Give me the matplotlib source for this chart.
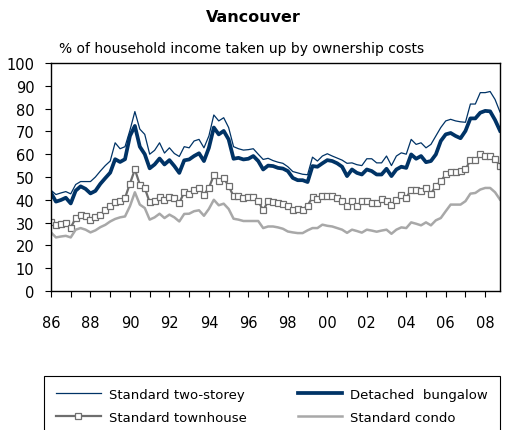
import numpy as np
import matplotlib
matplotlib.use("Agg")
import matplotlib.pyplot as plt
from matplotlib.ticker import FuncFormatter, MultipleLocator

# Quarterly data, 1986Q1 .. 2008Q4
start_year = 1986
two_storey = [
    44.2, 42.3, 43.0, 43.6, 42.6, 46.7, 48.0, 48.0, 48.0, 50.0, 52.6, 55.0,
    57.0, 65.0, 62.4, 63.3, 70.5, 78.7, 71.0, 68.7, 60.0, 61.7, 65.0, 60.5,
    62.8, 60.3, 59.0, 63.3, 62.8, 65.8, 66.5, 62.8, 68.0, 77.2, 74.6, 76.0,
    71.7, 63.3, 62.4, 61.8, 62.0, 62.4, 60.0, 57.7, 58.2, 57.2, 56.5, 56.0,
    54.5, 52.4, 51.8, 51.2, 51.0, 58.7, 57.0, 59.2, 60.2, 59.2, 58.3, 57.4,
    56.0, 56.2, 55.4, 55.0, 58.0, 58.0, 56.2, 56.2, 59.2, 55.0, 59.2, 60.6,
    60.0, 66.5, 64.3, 65.0, 62.8, 64.3, 68.0, 71.7, 74.6, 75.3, 74.6, 74.2,
    74.0, 82.0, 82.0, 87.0, 87.0, 87.5, 84.0, 78.5,
]
bungalow = [
    43.0, 39.2, 39.9, 40.9, 38.4, 44.0, 45.9, 44.8, 42.8, 43.9, 47.0, 49.5,
    51.9, 57.8, 56.6, 57.8, 68.0, 72.4, 63.3, 60.0, 53.8, 55.5, 58.1, 55.5,
    57.4, 54.8, 51.8, 57.3, 57.7, 59.2, 60.4, 57.0, 62.8, 71.7, 68.7, 70.2,
    66.5, 58.0, 58.4, 57.7, 58.0, 59.2, 57.0, 53.3, 55.0, 54.8, 54.0, 53.7,
    52.6, 49.6, 48.6, 48.6, 47.8, 54.8, 54.5, 56.0, 57.4, 57.0, 56.0, 54.5,
    50.4, 53.3, 51.8, 51.1, 53.3, 52.6, 51.1, 51.1, 53.6, 50.4, 53.3, 54.5,
    54.0, 59.9, 58.0, 59.2, 56.5, 57.0, 59.9, 65.8, 68.7, 69.3, 68.0, 67.0,
    70.2, 75.7, 75.7, 78.2, 79.0, 78.8, 75.0, 70.3,
]
townhouse = [
    30.1, 29.0, 29.5, 29.8, 27.8, 32.0, 33.5, 33.0, 31.3, 32.3, 33.5, 35.4,
    37.2, 38.9, 39.4, 40.8, 47.1, 53.3, 46.7, 45.2, 38.9, 39.4, 41.3, 40.0,
    41.3, 40.8, 38.6, 43.3, 42.7, 44.5, 45.2, 42.3, 45.2, 50.8, 48.2, 49.6,
    46.0, 41.6, 41.6, 40.8, 41.1, 41.1, 39.4, 35.4, 39.3, 38.9, 38.6, 38.2,
    37.2, 35.7, 36.0, 35.7, 37.5, 41.1, 40.4, 41.6, 41.6, 41.6, 40.8, 39.4,
    37.2, 39.4, 37.2, 39.4, 39.4, 38.6, 38.6, 40.2, 39.4, 37.6, 40.1, 41.9,
    40.8, 44.5, 44.5, 43.8, 45.2, 42.7, 46.0, 48.2, 51.1, 52.1, 52.1, 52.6,
    53.3, 57.4, 57.4, 59.9, 59.2, 59.2, 57.7, 55.0,
]
condo = [
    25.7, 23.5, 23.9, 24.2, 23.5, 26.9, 27.6, 26.9, 25.7, 26.6, 28.0, 29.0,
    30.5, 31.6, 32.3, 32.7, 37.2, 43.3, 37.9, 36.4, 31.3, 32.3, 33.9, 32.0,
    33.5, 32.3, 30.5, 33.8, 33.9, 35.0, 35.4, 33.0, 36.0, 40.0, 37.6, 38.3,
    36.0, 31.7, 31.3, 30.7, 30.7, 30.7, 30.7, 27.6, 28.3, 28.3, 27.9, 27.3,
    26.1, 25.7, 25.4, 25.4, 26.6, 27.6, 27.6, 29.1, 28.6, 28.3, 27.6, 26.9,
    25.5, 26.9, 26.3, 25.6, 26.9, 26.5, 26.0, 26.5, 26.9, 25.1, 26.9, 27.9,
    27.6, 30.1, 29.5, 28.8, 30.1, 28.8, 31.0, 32.0, 35.0, 37.9, 37.9, 37.9,
    39.4, 42.7, 43.0, 44.5, 45.2, 45.2, 43.3, 40.1,
]

x = start_year + np.arange(len(two_storey)) * 0.25

navy = "#003366"
fig = plt.figure(figsize=(5.06, 4.31), dpi=100)
ax = fig.add_axes([51 / 506, 1 - 292 / 431, 449 / 506, 228 / 431])

ax.plot(x, two_storey, color=navy, lw=0.9, label="Standard two-storey")
ax.plot(x, bungalow, color=navy, lw=2.7, label="Detached  bungalow")
ax.plot(x, townhouse, color="#6e6e6e", lw=1.6, marker="s", ms=3.8,
        mfc="white", mec="#6e6e6e", mew=0.9, label="Standard townhouse")
ax.plot(x, condo, color="#a8a8a8", lw=1.8, label="Standard condo")

ax.set_xlim(start_year, x[-1])
ax.set_ylim(0, 100)
ax.yaxis.set_major_locator(MultipleLocator(10))
ax.xaxis.set_major_locator(MultipleLocator(2))
ax.xaxis.set_minor_locator(MultipleLocator(1))
ax.xaxis.set_major_formatter(FuncFormatter(lambda v, p: "%02d" % (int(round(v)) % 100)))
ax.tick_params(axis="x", which="both", direction="out", length=4, width=0.8,
               labelsize=10.5, pad=13, colors="black")
ax.tick_params(axis="y", direction="out", length=4, width=0.8, labelsize=10.5, pad=8)
for s in ax.spines.values():
    s.set_color("black")
    s.set_linewidth(1.0)

fig.text(0.5, 1 - 18 / 431, "Vancouver", ha="center", va="center",
         fontsize=11.5, fontweight="bold")
fig.text(59 / 506, 1 - 49 / 431, "% of household income taken up by ownership costs",
         ha="left", va="center", fontsize=10)

h, l = ax.get_legend_handles_labels()
order = [0, 2, 1, 3]
leg = fig.legend([h[i] for i in order], [l[i] for i in order], ncol=2,
                 loc="upper left", bbox_to_anchor=(44 / 506, -0.05, 456 / 506, 0.175),
                 mode="expand", borderaxespad=0, fancybox=False, edgecolor="black",
                 fontsize=9.5, handlelength=3.4, handletextpad=0.6,
                 labelspacing=0.75, borderpad=0.9, framealpha=1)
leg.get_frame().set_linewidth(0.8)

fig.savefig("out.png", dpi=100)
